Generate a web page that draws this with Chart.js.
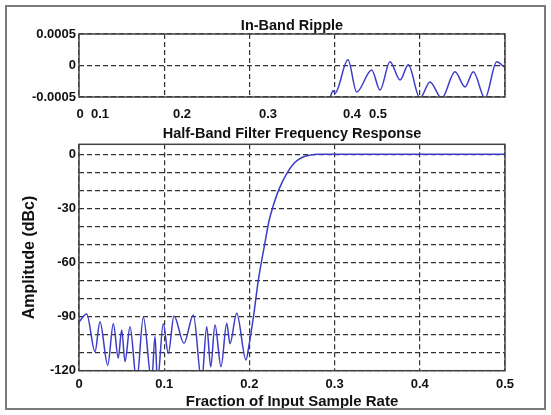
<!DOCTYPE html>
<html>
<head>
<meta charset="utf-8">
<title>Half-Band Filter Frequency Response</title>
<script src="https://cdn.jsdelivr.net/npm/chart.js@4/dist/chart.umd.min.js"></script>
<style>
  body { margin: 0; background: #fff; }
  #wrap { position: relative; width: 551px; height: 415px; overflow: hidden; }
  #ripple { position: absolute; left: 0; top: 0; }
  #resp { position: absolute; left: 0; top: 122px; }
  #frame {
    position: absolute; left: 5px; top: 5px; width: 541px; height: 405px;
    border: 2px solid #7a7a7a; box-sizing: border-box; pointer-events: none;
  }
</style>
</head>
<body>
<div id="wrap">
  <canvas id="ripple" width="551" height="122"></canvas>
  <canvas id="resp" width="551" height="293"></canvas>
  <div id="frame"></div>
</div>
<script>
// ===== DATA =====
// in-band ripple (upper panel)
const rippleFreq = [0.2946, 0.2981, 0.3005, 0.3157, 0.3259, 0.3435, 0.3533, 0.3650, 0.3768,
                    0.3865, 0.4002, 0.4120, 0.4257, 0.4413, 0.4531, 0.4628, 0.4765, 0.4903, 0.4988];
const rippleVal  = [-0.00052, -0.00040, -0.00044, 0.00009, -0.00042, -0.00007, -0.00039, 0.00006, -0.00023,
                    0.00001, -0.00052, -0.00026, -0.00052, -0.00010, -0.00034, -0.00010, -0.00052, 0.00006, -0.00002];
const rippleYTicks = [0.0005, 0, -0.0005];
const rippleTickPos  = [0.0012, 0.0246, 0.1209, 0.2218, 0.3204, 0.3509];
const rippleTickText = ["0", "0.1", "0.2", "0.3", "0.4", "0.5"];

// full response (lower panel)
const respFreq = [0, 0.0090, 0.0188, 0.0246, 0.0337, 0.0403, 0.0461, 0.0501, 0.0540, 0.0599,
                  0.0677, 0.0755, 0.0853, 0.0892, 0.0921, 0.0989, 0.1048, 0.1115, 0.1232, 0.1342,
                  0.1440, 0.1499, 0.1546, 0.1596, 0.1667, 0.1734, 0.1772, 0.1851, 0.1960, 0.1995,
                  0.2019, 0.2054, 0.2101, 0.2183, 0.2230, 0.2277, 0.2347, 0.2441, 0.2535, 0.2617,
                  0.2711, 0.2805, 0.5];
const respDb   = [-93, -88.6, -109.5, -92.8, -117, -94, -113, -97.4, -115, -95.6,
                  -126, -90.4, -126, -101, -126, -94, -110.4, -89.7, -104.8, -89.1,
                  -126, -95.6, -117.8, -94.7, -117.8, -93.7, -105, -88.2, -114, -106,
                  -99, -88, -71, -49, -37, -29, -19.5, -10.5, -4.5, -1.8,
                  -0.5, 0, 0];
const dbGrid   = [0, -10, -20, -30, -40, -50, -60, -70, -80, -90, -100, -110, -120];
const dbLabels = [0, -30, -60, -90, -120];
const freqTicks = [0, 0.1, 0.2, 0.3, 0.4, 0.5];

// ===== STYLE =====
const FONT = "'Liberation Sans', Arial, sans-serif";
const INK = "#111";
const BLUE = "#3c3cc8";
const GRID = "#333";
const DASH = [5, 3];
Chart.defaults.font.family = FONT;

const tickFont = { size: 13, weight: "bold", lineHeight: 1 };

// solid box round the plot area
const plotFrame = {
    id: "plotFrame",
    afterDraw(chart) {
        const a = chart.chartArea;
        const ctx = chart.ctx;
        ctx.save();
        ctx.strokeStyle = "#444";
        ctx.lineWidth = 1.5;
        ctx.strokeRect(a.left, a.top, a.right - a.left, a.bottom - a.top);
        ctx.restore();
    }
};

function toPoints(xs, ys) {
    return xs.map((x, i) => ({ x: x, y: ys[i] }));
}

// ===== UPPER: IN-BAND RIPPLE =====
new Chart(document.getElementById("ripple"), {
    type: "line",
    data: {
        datasets: [{
            data: toPoints(rippleFreq, rippleVal),
            borderColor: BLUE,
            borderWidth: 1.5,
            pointRadius: 0,
            cubicInterpolationMode: "monotone",
            clip: 0
        }]
    },
    options: {
        responsive: false,
        animation: false,
        events: [],
        layout: { padding: { left: 0, right: 46, top: 0, bottom: 0 } },
        plugins: {
            legend: { display: false },
            tooltip: { enabled: false },
            title: {
                display: true,
                fullSize: false,
                text: "In-Band Ripple",
                color: INK,
                font: { size: 14.5, weight: "bold", lineHeight: 1 },
                padding: { top: 18.75, bottom: 0.75 }
            }
        },
        scales: {
            x: {
                type: "linear", min: 0, max: 0.5,
                afterBuildTicks: s => { s.ticks = freqTicks.map(v => ({ value: v })); },
                ticks: { display: false },
                grid: { color: GRID, lineWidth: 1.2, drawTicks: false },
                border: { display: false, dash: DASH },
                afterFit: s => { s.height = 0; }
            },
            xl: {
                type: "linear", min: 0, max: 0.5, position: "bottom",
                afterBuildTicks: s => { s.ticks = rippleTickPos.map(v => ({ value: v })); },
                ticks: {
                    autoSkip: false, maxRotation: 0, padding: 10.5,
                    color: INK, font: tickFont,
                    callback: (v, i) => rippleTickText[i]
                },
                grid: { display: false, drawTicks: false },
                border: { display: false },
                afterFit: s => { s.height = 25; }
            },
            y: {
                min: -0.0005, max: 0.0005,
                afterBuildTicks: s => { s.ticks = rippleYTicks.map(v => ({ value: v })); },
                ticks: { padding: 3, color: INK, font: tickFont, callback: v => String(v) },
                grid: { color: GRID, lineWidth: 1.2, drawTicks: false },
                border: { display: false, dash: DASH },
                afterFit: s => { s.width = 79; }
            }
        }
    },
    plugins: [plotFrame]
});

// ===== LOWER: HALF-BAND FILTER RESPONSE =====
new Chart(document.getElementById("resp"), {
    type: "line",
    data: {
        datasets: [{
            data: toPoints(respFreq, respDb),
            borderColor: BLUE,
            borderWidth: 1.5,
            pointRadius: 0,
            cubicInterpolationMode: "monotone",
            clip: 0
        }]
    },
    options: {
        responsive: false,
        animation: false,
        events: [],
        layout: { padding: { left: 0, right: 46, top: 0, bottom: 0 } },
        plugins: {
            legend: { display: false },
            tooltip: { enabled: false },
            title: {
                display: true,
                fullSize: false,
                text: "Half-Band Filter Frequency Response",
                color: INK,
                font: { size: 14.5, weight: "bold", lineHeight: 1 },
                padding: { top: 4.75, bottom: 3.05 }
            }
        },
        scales: {
            x: {
                type: "linear", min: 0, max: 0.5,
                afterBuildTicks: s => { s.ticks = freqTicks.map(v => ({ value: v })); },
                ticks: { autoSkip: false, maxRotation: 0, padding: 6.8, color: INK, font: tickFont },
                grid: { color: GRID, lineWidth: 1.2, drawTicks: false },
                border: { display: false, dash: DASH },
                title: {
                    display: true,
                    text: "Fraction of Input Sample Rate",
                    color: INK,
                    font: { size: 15, weight: "bold", lineHeight: 1 },
                    padding: { top: 0, bottom: 5.5 }
                },
                afterFit: s => { s.height = 44.3; }
            },
            y: {
                min: -120, max: 5.5,
                afterBuildTicks: s => { s.ticks = dbGrid.map(v => ({ value: v })); },
                ticks: {
                    autoSkip: false, padding: 3, color: INK, font: tickFont,
                    callback: v => (dbLabels.includes(v) ? String(v) : "")
                },
                grid: { color: GRID, lineWidth: 1.2, drawTicks: false },
                border: { display: false, dash: DASH },
                title: {
                    display: true,
                    text: "Amplitude (dBc)",
                    color: INK,
                    font: { size: 16, weight: "bold", lineHeight: 1 },
                    padding: { top: 22, bottom: 0 }
                },
                afterFit: s => { s.width = 79; }
            }
        }
    },
    plugins: [plotFrame]
});
</script>
</body>
</html>
